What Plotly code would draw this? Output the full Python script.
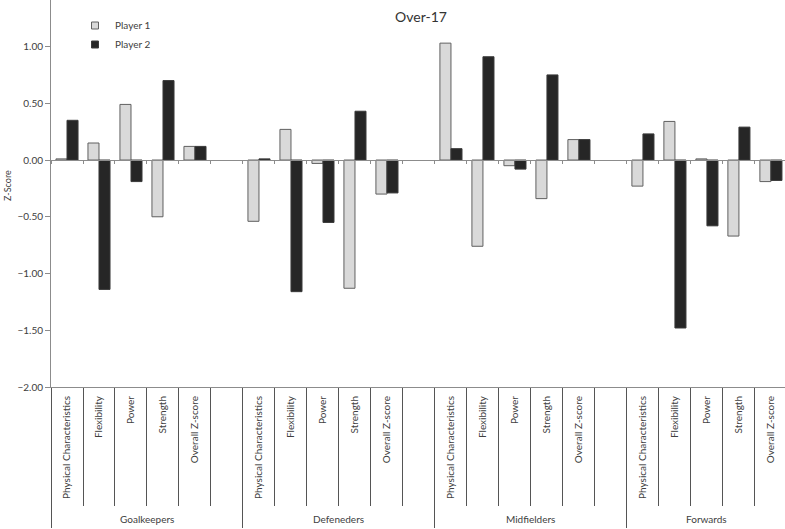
import plotly.graph_objects as go

# ---- data ----
groups = ["Goalkeepers", "Defeneders", "Midfielders", "Forwards"]
measures = ["Physical Characteristics", "Flexibility", "Power", "Strength", "Overall Z-score"]
series_names = ["Player 1", "Player 2"]

gk_p1 = [0.01, 0.15, 0.49, -0.50, 0.12]
gk_p2 = [0.35, -1.14, -0.19, 0.70, 0.12]
def_p1 = [-0.54, 0.27, -0.03, -1.13, -0.30]
def_p2 = [0.01, -1.16, -0.55, 0.43, -0.29]
mid_p1 = [1.03, -0.76, -0.05, -0.34, 0.18]
mid_p2 = [0.10, 0.91, -0.08, 0.75, 0.18]
fwd_p1 = [-0.23, 0.34, 0.01, -0.67, -0.19]
fwd_p2 = [0.23, -1.48, -0.58, 0.29, -0.18]

y_ticks = [-2.0, -1.5, -1.0, -0.5, 0.0, 0.5, 1.0]

# ---- layout helpers (category slots: 5 measures + 1 empty per group) ----
slots_per_group = len(measures) + 1
p1_by_group = [gk_p1, def_p1, mid_p1, fwd_p1]
p2_by_group = [gk_p2, def_p2, mid_p2, fwd_p2]

xs, p1, p2, sub_text = [], [], [], []
for gi, g in enumerate(groups):
    for mi, m in enumerate(measures):
        xs.append(gi * slots_per_group + mi)
        p1.append(p1_by_group[gi][mi])
        p2.append(p2_by_group[gi][mi])
        sub_text.append(m)

n_slots = slots_per_group * len(groups) - 1  # last group has no trailing empty slot
boundaries = [i - 0.5 for i in range(n_slots + 1)]
group_bounds = [gi * slots_per_group - 0.5 for gi in range(len(groups))]
group_centers = []
for gi in range(len(groups)):
    first = gi * slots_per_group
    last = first + slots_per_group - 1 if gi < len(groups) - 1 else first + len(measures) - 1
    group_centers.append((first - 0.5 + last + 0.5) / 2)

FONT = "Lato, 'Open Sans', sans-serif"
TXT = "#404040"
AX = "#8c8c8c"
C1 = "#d9d9d9"
C2 = "#262626"
L1 = "#606060"
L2 = "#3a3a3a"

y_range = [-2.0, 1.41]
x_range = [-0.5, 22.44]
PLOT_H = 387

fig = go.Figure()
fig.add_trace(go.Bar(x=xs, y=p1, name=series_names[0], marker=dict(color=C1, line=dict(color=L1, width=1)),
                     showlegend=False))
fig.add_trace(go.Bar(x=xs, y=p2, name=series_names[1], marker=dict(color=C2, line=dict(color=L2, width=1)),
                     showlegend=False))
# legend entries (small square swatches)
fig.add_trace(go.Scatter(x=[None], y=[None], mode="markers", name=series_names[0],
                         marker=dict(symbol="square", size=7, color=C1, line=dict(color=L1, width=1))))
fig.add_trace(go.Scatter(x=[None], y=[None], mode="markers", name=series_names[1],
                         marker=dict(symbol="square", size=7, color=C2, line=dict(color=L2, width=1))))
# placeholders so the overlay axes get drawn
for ax in ["x2", "x3", "x4"]:
    fig.add_trace(go.Scatter(x=[None], y=[None], xaxis=ax, yaxis="y", showlegend=False,
                             hoverinfo="skip", mode="markers"))

annotations = []
for gname, gc in zip(groups, group_centers):
    annotations.append(dict(x=gc, xref="x", y=-(519 - PLOT_H) / PLOT_H, yref="paper", text=gname,
                            showarrow=False, xanchor="center", yanchor="middle",
                            font=dict(family=FONT, size=10, color=TXT)))
annotations.append(dict(x=-(51 - 7) / 734, xref="paper", y=1 - (186 / PLOT_H), yref="paper",
                        text="Z-Score", textangle=-90, showarrow=False,
                        xanchor="center", yanchor="middle",
                        font=dict(family=FONT, size=9, color=TXT)))

fig.update_layout(
    width=785, height=529,
    margin=dict(l=51, r=0, t=0, b=529 - PLOT_H, autoexpand=False),
    paper_bgcolor="white", plot_bgcolor="white",
    barmode="group", bargap=0.31, bargroupgap=0,
    font=dict(family=FONT, size=10, color=TXT),
    title=dict(text="Over-17", x=(421 - 51) / 734, xref="paper", xanchor="center",
               y=1 - 17 / 529, yref="container", yanchor="middle",
               font=dict(family=FONT, size=14, color="#333333")),
    legend=dict(x=(75 - 51) / 734, y=1 - 11 / PLOT_H, xanchor="left", yanchor="top",
                font=dict(family=FONT, size=10, color=TXT), bgcolor="rgba(0,0,0,0)",
                itemwidth=30, tracegroupgap=0),
    annotations=annotations,
    yaxis=dict(range=y_range, tickvals=y_ticks, tickformat=".2f", showgrid=False, zeroline=False,
               showline=True, linecolor=AX, linewidth=1, ticks="outside", ticklen=5, tickcolor=AX,
               tickfont=dict(family=FONT, size=10, color=TXT), automargin=False),
    # bottom axis: box lines below the plot
    xaxis=dict(range=x_range, showgrid=False, zeroline=False, showline=True, linecolor=AX, linewidth=1,
               tickvals=boundaries, ticks="outside", ticklen=118, tickcolor="#555555", tickwidth=1,
               showticklabels=False, automargin=False),
    # zero-line axis with small ticks
    xaxis2=dict(range=x_range, overlaying="x", anchor="free", position=(0 - y_range[0]) / (y_range[1] - y_range[0]),
                showgrid=False, zeroline=False, showline=True, linecolor=AX, linewidth=1,
                tickvals=boundaries, ticks="outside", ticklen=3, tickcolor=AX,
                showticklabels=False, automargin=False),
    # measure labels
    xaxis3=dict(range=x_range, overlaying="x", anchor="y", side="bottom",
                showgrid=False, zeroline=False, showline=False,
                tickvals=xs, ticktext=sub_text, ticks="", tickangle=-90, ticklabelstandoff=6,
                tickfont=dict(family=FONT, size=10, color=TXT), automargin=False),
    # group dividers
    xaxis4=dict(range=x_range, overlaying="x", anchor="y", side="bottom",
                showgrid=False, zeroline=False, showline=False,
                tickvals=group_bounds, ticks="outside", ticklen=140, tickcolor="#555555", tickwidth=1,
                showticklabels=False, automargin=False),
)

fig.write_html("out.html", config={"displayModeBar": False},
               post_script="document.body.style.margin='0';document.body.style.overflow='hidden';")
